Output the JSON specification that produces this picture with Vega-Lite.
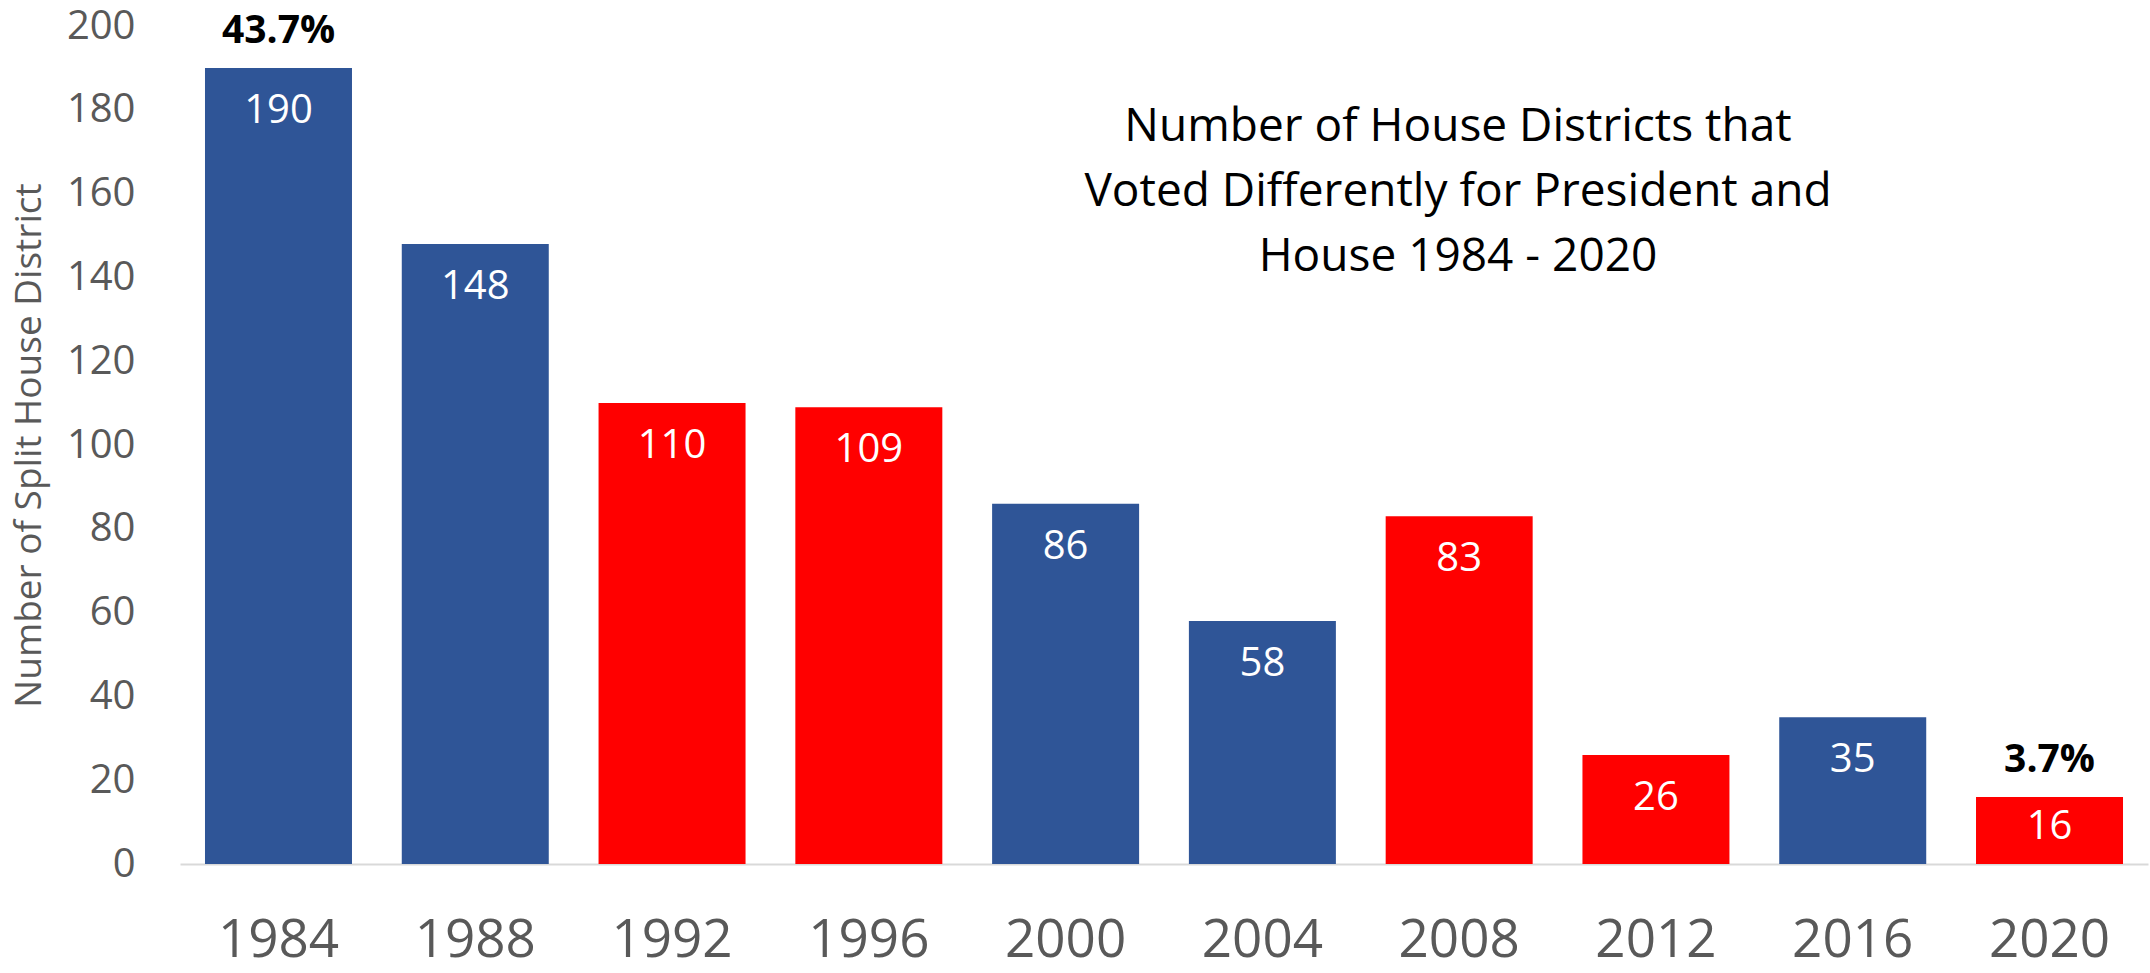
{
  "$schema": "https://vega.github.io/schema/vega-lite/v6.json",
  "width": 1968,
  "height": 838,
  "autosize": {"type": "none"},
  "padding": {"left": 180, "top": 26, "right": 2, "bottom": 109},
  "background": "white",
  "title": {
    "text": ["Number of House Districts that", "Voted Differently for President and", "House 1984 - 2020"],
    "font": "Open Sans",
    "fontSize": 46,
    "fontWeight": "normal",
    "color": "black",
    "anchor": "middle",
    "frame": "group",
    "orient": "top",
    "baseline": "alphabetic",
    "offset": 0,
    "lineHeight": 65,
    "dx": 294,
    "dy": 311
  },
  "data": {
    "values": [
      {"year": "1984", "splits": 190, "winner": "R", "pct": "43.7%"},
      {"year": "1988", "splits": 148, "winner": "R"},
      {"year": "1992", "splits": 110, "winner": "D"},
      {"year": "1996", "splits": 109, "winner": "D"},
      {"year": "2000", "splits": 86, "winner": "R"},
      {"year": "2004", "splits": 58, "winner": "R"},
      {"year": "2008", "splits": 83, "winner": "D"},
      {"year": "2012", "splits": 26, "winner": "D"},
      {"year": "2016", "splits": 35, "winner": "R"},
      {"year": "2020", "splits": 16, "winner": "D", "pct": "3.7%"}
    ]
  },
  "encoding": {
    "x": {
      "field": "year",
      "type": "ordinal",
      "scale": {"paddingInner": 0.253, "paddingOuter": 0.127},
      "axis": {
        "title": null,
        "labelAngle": 0,
        "labelFont": "Open Sans",
        "labelFontSize": 53,
        "labelColor": "#595959",
        "labelPadding": 50,
        "ticks": false,
        "tickSize": 0,
        "domainColor": "#D9D9D9",
        "domainWidth": 2
      }
    },
    "y": {
      "field": "splits",
      "type": "quantitative",
      "scale": {"domain": [0, 200], "nice": false},
      "axis": {
        "title": "Number of Split House District",
        "titleFont": "Open Sans",
        "titleFontSize": 37,
        "titleFontWeight": "normal",
        "titleColor": "#595959",
        "titleAngle": -90,
        "titleAlign": "center",
        "titleBaseline": "middle",
        "titleX": -151,
        "titleY": 419,
        "values": [0, 20, 40, 60, 80, 100, 120, 140, 160, 180, 200],
        "labelFont": "Open Sans",
        "labelFontSize": 40,
        "labelColor": "#595959",
        "labelPadding": 45,
        "ticks": false,
        "tickSize": 0,
        "domain": false,
        "grid": false
      }
    }
  },
  "layer": [
    {
      "mark": {"type": "bar"},
      "encoding": {
        "color": {
          "field": "winner",
          "type": "nominal",
          "scale": {"domain": ["R", "D"], "range": ["#2F5597", "#FF0000"]},
          "legend": null
        }
      }
    },
    {
      "transform": [{"filter": "datum.splits >= 20"}],
      "mark": {"type": "text", "font": "Open Sans", "fontSize": 40, "color": "white", "baseline": "middle", "dy": 43},
      "encoding": {"text": {"field": "splits", "type": "quantitative"}}
    },
    {
      "transform": [{"filter": "datum.splits < 20"}],
      "mark": {"type": "text", "font": "Open Sans", "fontSize": 40, "color": "white", "baseline": "middle", "dy": 30},
      "encoding": {"text": {"field": "splits", "type": "quantitative"}}
    },
    {
      "transform": [{"filter": "isValid(datum.pct)"}],
      "mark": {"type": "text", "font": "Open Sans", "fontSize": 39, "fontWeight": "bold", "color": "black", "baseline": "alphabetic", "dy": -25},
      "encoding": {"text": {"field": "pct", "type": "nominal"}}
    }
  ],
  "config": {"view": {"stroke": null}}
}
